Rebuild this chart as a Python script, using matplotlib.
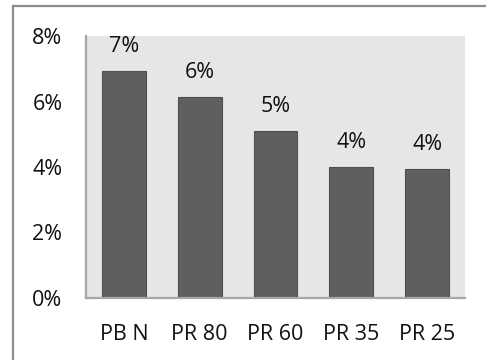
import matplotlib
matplotlib.use("Agg")
import matplotlib.pyplot as plt
from matplotlib.patches import Rectangle
from matplotlib.ticker import FuncFormatter

categories = ["PB N", "PR 80", "PR 60", "PR 35", "PR 25"]
shares = [0.0693, 0.0615, 0.0511, 0.0399, 0.0394]
y_ticks = [0.0, 0.02, 0.04, 0.06, 0.08]

plt.rcParams["font.family"] = ["Open Sans", "DejaVu Sans"]

W, H = 486, 360
fig = plt.figure(figsize=(W / 100, H / 100), dpi=100)
fig.patch.set_facecolor("white")

# outer chart frame (runs past the right and bottom edges)
fig.patches.append(Rectangle((12.5 / W, -0.1), 1.0, 1.1 - 6.5 / H,
                             transform=fig.transFigure, fill=False,
                             edgecolor="#8c8c8c", linewidth=1.6))

left, right, top, bottom = 86, 465, 36, 298
ax = fig.add_axes([left / W, 1 - bottom / H, (right - left) / W, (bottom - top) / H])
ax.set_facecolor("#e6e6e6")

x = range(len(categories))
bars = ax.bar(x, shares, width=0.58, color="#5f5f5f", edgecolor="#4f4f4f", linewidth=0.8)

for rect, v in zip(bars, shares):
    ax.annotate(f"{v:.0%}", (rect.get_x() + rect.get_width() / 2, v),
                xytext=(0, 10), textcoords="offset points",
                ha="center", va="bottom", fontsize=15.5, color="#111111")

ax.set_xlim(-0.5, len(categories) - 0.5)
ax.set_ylim(0, 0.08)
ax.set_yticks(y_ticks)
ax.yaxis.set_major_formatter(FuncFormatter(lambda v, _: f"{v:.0%}"))
ax.set_xticks(list(x))
ax.set_xticklabels(categories)
ax.tick_params(axis="both", length=0, labelsize=15.5, colors="#111111")
ax.tick_params(axis="y", pad=17)
ax.tick_params(axis="x", pad=19)

for s in ("top", "right"):
    ax.spines[s].set_visible(False)
for s in ("left", "bottom"):
    ax.spines[s].set_color("#a6a6a6")
    ax.spines[s].set_linewidth(1.6)

fig.savefig("out.png", dpi=100)
